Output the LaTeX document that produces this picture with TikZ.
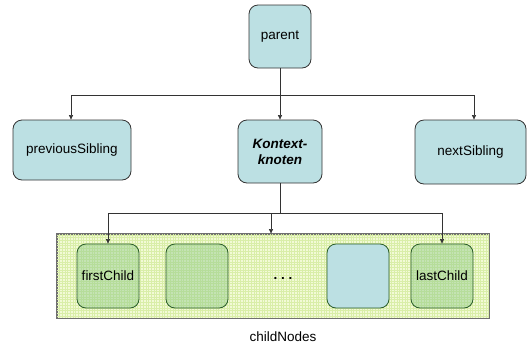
\documentclass[tikz,border=0pt]{standalone}
\usepackage{fontspec}
\setmainfont{Liberation Sans}
\usetikzlibrary{arrows.meta}
\definecolor{nodeblue}{HTML}{BCE0E3}
\definecolor{gridbg}{HTML}{F2FAD6}
\definecolor{gridline}{HTML}{D9EEA8}
\definecolor{childgreen}{HTML}{8CC98A}
\definecolor{edgegray}{HTML}{333333}
\tikzset{
  box/.style={draw=edgegray, line width=0.8pt, rounded corners=9pt, fill=nodeblue,
    inner sep=0pt, font=\fontsize{13.5}{15}\selectfont, align=center},
  childbox/.style={draw=edgegray!80!green, line width=0.8pt, rounded corners=9pt,
    fill=childgreen, fill opacity=0.45, text opacity=1, inner sep=0pt,
    minimum width=62pt, minimum height=64pt, font=\fontsize{13.5}{15}\selectfont},
  link/.style={draw=edgegray, line width=0.6pt},
  arr/.style={link, -{Triangle[length=4.5pt,width=4pt]}},
}
\begin{document}
\begin{tikzpicture}[x=1pt,y=-1pt]
\useasboundingbox (0,0) rectangle (529,346);
% upper row
\node[box, minimum width=62pt, minimum height=63pt] (parent) at (280,36.5) {parent};
\node[box, minimum width=118pt, minimum height=60pt] (prev) at (72,150) {previousSibling};
\node[box, minimum width=84pt, minimum height=63pt, font=\fontsize{13.5}{16}\selectfont\bfseries\itshape] (ctx) at (280,151.5) {Kontext-\\knoten};
\node[box, minimum width=111pt, minimum height=64pt] (next) at (470.5,152) {nextSibling};
% container with grid texture
\node[draw=edgegray!70, line width=0.8pt, fill=gridbg, minimum width=432pt, minimum height=84pt, inner sep=0pt] (kids) at (273,276) {};
\begin{scope}
  \clip (kids.north west) rectangle (kids.south east);
  \draw[gridline, line width=0.6pt, step=2.7pt] (kids.north west) grid (kids.south east);
\end{scope}
\draw[edgegray!70, line width=0.8pt] (kids.north west) rectangle (kids.south east);
\node[font=\fontsize{13.5}{15}\selectfont] (kidslabel) at (283,337) {childNodes};
% children
\node[childbox] (first) at (108,276) {firstChild};
\node[childbox] (second) at (197,276) {};
\node[font=\fontsize{13.5}{15}\bfseries] (dots) at (283,278) {.\hspace{3.8pt}.\hspace{3.8pt}.};
\node[childbox, fill=nodeblue, fill opacity=1] (other) at (358,276) {};
\node[childbox] (last) at (442,276) {lastChild};
% connectors from parent
\coordinate (bar1) at (280,95);
\draw[link] (parent.south) -- (bar1);
\draw[arr] (bar1) -- (ctx.north);
\draw[arr] (bar1) -| ([xshift=-1pt]prev.north);
\draw[arr] (bar1) -| ([xshift=3.5pt]next.north);
% connectors from Kontextknoten
\coordinate (bar2) at (280,213);
\draw[link] (ctx.south) -- (bar2);
\draw[arr] (bar2) -| ([xshift=-2pt]kids.north);
\draw[arr] (bar2) -| (first.north);
\draw[arr] (bar2) -| (last.north);
\end{tikzpicture}
\end{document}
